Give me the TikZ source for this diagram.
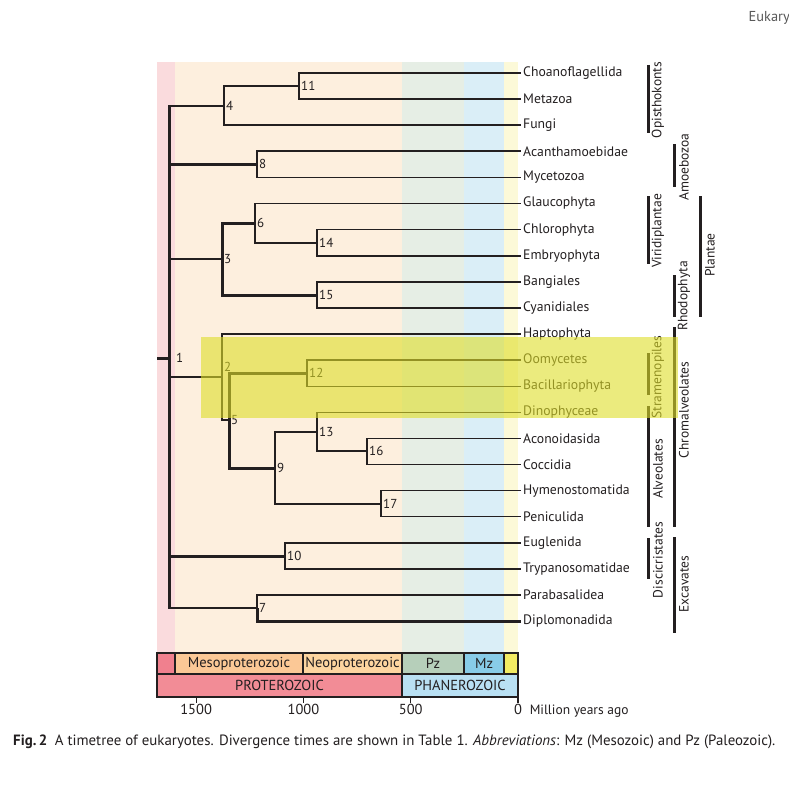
\documentclass[tikz,border=0pt]{standalone}
\usepackage{fontspec}
\setmainfont{PT Sans}
\usepackage{tikz}

\definecolor{inkc}{HTML}{231F20}
\definecolor{bgpink}{RGB}{250,219,221}
\definecolor{bgpeach}{RGB}{253,239,222}
\definecolor{bgpz}{RGB}{230,238,229}
\definecolor{bgmz}{RGB}{218,238,247}
\definecolor{bgcen}{RGB}{252,249,216}
\definecolor{tspink}{RGB}{240,128,142}
\definecolor{tsmeso}{RGB}{251,200,150}
\definecolor{tsneo}{RGB}{253,213,160}
\definecolor{tspz}{RGB}{182,207,186}
\definecolor{tsmz}{RGB}{136,204,232}
\definecolor{tscen}{RGB}{243,235,98}
\definecolor{tsprot}{RGB}{242,140,150}
\definecolor{tsphan}{RGB}{185,224,243}
\definecolor{hilite}{RGB}{222,222,40}

\begin{document}
\begin{tikzpicture}[x=1pt,y=-1pt,font=\fontsize{13.7}{15}\selectfont,
  br/.style={draw=inkc,line width=1.4pt},
  brm/.style={draw=inkc,line width=2pt},
  brt/.style={draw=inkc,line width=3pt},
  taxon/.style={anchor=west,inner sep=2pt,text=inkc},
  num/.style={anchor=west,inner sep=2pt,text=inkc,font=\fontsize{13}{14}\selectfont},
  clade/.style={rotate=90,inner sep=0pt,text=inkc,font=\fontsize{13.5}{15}\selectfont},
  cbar/.style={draw=inkc,line width=3pt},
  era/.style={draw=inkc,line width=1.6pt},
  eralbl/.style={text=inkc,inner sep=0pt,font=\fontsize{14.5}{16}\selectfont}]
  \useasboundingbox (0,0) rectangle (789,789);
  \fill[white] (0,0) rectangle (789,789);
  \node[anchor=east,text=black!65,inner sep=0pt,font=\fontsize{14.4}{16}\selectfont] (hdr) at (790,18) {Eukary};
  % geological bands behind the tree
  \foreach \a/\b/\c in {157/175/bgpink,175/402/bgpeach,402/464/bgpz,464/504/bgmz,504/518/bgcen}
    \fill[\c] (\a,62) rectangle (\b,653);
  % taxa
  \foreach \i/\t in {0/Choanoflagellida,1/Metazoa,2/Fungi,3/Acanthamoebidae,4/Mycetozoa,
    5/Glaucophyta,6/Chlorophyta,7/Embryophyta,8/Bangiales,9/Cyanidiales,10/Haptophyta,
    11/Oomycetes,12/Bacillariophyta,13/Dinophyceae,14/Aconoidasida,15/Coccidia,
    16/Hymenostomatida,17/Peniculida,18/Euglenida,19/Trypanosomatidae,20/Parabasalidea,
    21/Diplomonadida}
    \node[taxon] (t\i) at (521,{73+26.1*\i}) {\t};
  % divergence points
  \foreach \n/\x/\y in {1/169/358,2/222/377,3/222/259,4/224/106,5/229/420,6/255/223,
    7/257/608,8/257/164,9/275/468,10/285/556,11/299/86,12/307/373,13/317/432,
    14/317/243,15/317/295,16/367/451,17/381/504}
    \coordinate (n\n) at (\x,\y);
  \coordinate (r0) at (157,358);
  % branches
  \draw[brt] (n1 |- n4) -- (n1 |- n7);
  \draw[brt] (r0) -- (n1);
  \foreach \a/\b/\s in {1/4/brm,1/8/brt,1/3/brm,1/2/brm,1/10/brt,1/7/brm,4/11/br,
    3/6/brt,3/15/brt,6/14/br,2/5/br,5/12/brt,5/9/brt,9/13/br,13/16/br,9/17/br}
    \draw[\s] (n\a) |- (n\b);
  \foreach \a/\b/\s in {11/0/br,11/1/br,4/2/br,8/3/brm,8/4/br,6/5/br,14/6/br,14/7/brm,
    15/8/br,15/9/br,2/10/br,12/11/br,12/12/br,13/13/br,16/14/br,16/15/br,17/16/br,
    17/17/br,10/18/br,10/19/br,7/20/br,7/21/brt}
    \draw[\s] (n\a) |- (t\b.west);
  % node numbers
  \foreach \n in {3,4,...,17}
    \node[num] (l\n) at (n\n) {\n};
  \node[num] (l1) at ([xshift=5pt]n1) {1};
  \node[num] (l2) at (222,367) {2};
  % clades
  \foreach \x/\a/\b/\c/\t in {648/65/133/100/Opisthokonts,674/144/187/167/Amoebozoa,
    648/196/264/231/Viridiplantae,674/275/317/296/Rhodophyta,700/196/317/255/Plantae,
    674/327/527/410/Chromalveolates,648/353/395/377/Stramenopiles,
    648/406/527/469/Alveolates,648/538/579/560/Discicristates,674/537/633/584/Excavates} {
    \draw[cbar] (\x,\a) -- (\x,\b);
    \node[clade] (c\t) at (\x+10,\c) {\t};
  }
  % highlighted group
  \fill[hilite,opacity=0.6] (201,337) rectangle (678,418);
  % time scale
  \foreach \a/\b/\c/\t in {157/175/tspink/{},175/303/tsmeso/Mesoproterozoic,
    303/402/tsneo/Neoproterozoic,402/464/tspz/Pz,464/504/tsmz/Mz,504/518/tscen/{}} {
    \draw[era,fill=\c] (\a,653) rectangle (\b,674);
    \node[eralbl] (e\a) at ({(\a+\b)/2},663.5) {\t};
  }
  \foreach \a/\b/\c/\t in {157/402/tsprot/PROTEROZOIC,402/518/tsphan/PHANEROZOIC} {
    \draw[era,fill=\c] (\a,674) rectangle (\b,697);
    \node[eralbl] (p\a) at ({(\a+\b)/2},685.5) {\t};
  }
  \foreach \v in {0,500,1000,1500} {
    \draw[inkc,line width=1.2pt] ({518-0.2146*\v},697) -- ++(0,6)
      node[below,inner sep=1pt,text=inkc,font=\fontsize{14.5}{16}\selectfont] (k\v) {\v};
  }
  \node[anchor=base west,inner sep=0pt,text=inkc,font=\fontsize{13.5}{15}\selectfont] (myr) at ([xshift=6pt]k0.base east) {Million years ago};
  % caption
  \node[anchor=west,inner sep=0pt,text=inkc,font=\fontsize{14.9}{17}\selectfont] (cap) at (13,742)
    {\textbf{Fig.\,2}\hspace{0.5em}A timetree of eukaryotes. Divergence times are shown in Table~1. \textit{Abbreviations}: Mz (Mesozoic) and Pz (Paleozoic).};
\end{tikzpicture}
\end{document}
